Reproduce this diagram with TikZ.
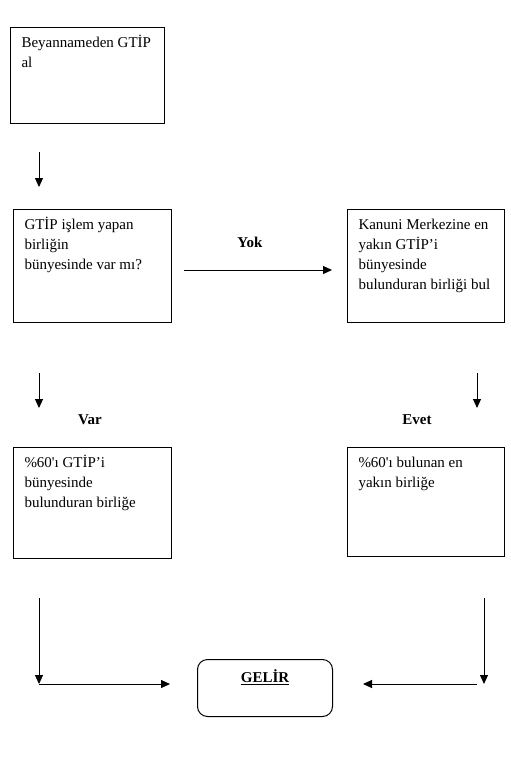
\documentclass[tikz,border=0pt]{standalone}
\usepackage{fontspec}
\setmainfont{Liberation Serif}
\usetikzlibrary{arrows.meta}

% kutu icindeki metin: genislik, yukseklik, metin
\newcommand{\kutumetin}[3]{\parbox[t][#2][t]{#1}{\raggedright\rule{0pt}{20pt}#3}}

\begin{document}
\begin{tikzpicture}[x=1pt,y=-1pt,
    kutu/.style={draw, line width=1pt, anchor=north west, inner xsep=11pt, inner ysep=0pt},
    etiket/.style={anchor=base, font=\bfseries},
    ok/.style={line width=1pt, -{Triangle[length=9pt,width=8pt]}}]
    \useasboundingbox (0,0) rectangle (511,768);
    \fontsize{15}{20}\selectfont

    % kutular
    \node[kutu] (beyan) at (10,27) {\kutumetin{132pt}{96pt}{Beyannameden GTİP\\al}};
    \node[kutu] (soru) at (13,209) {\kutumetin{136pt}{113pt}{GTİP işlem yapan\\birliğin\\bünyesinde var mı?}};
    \node[kutu] (kanuni) at (347,209) {\kutumetin{135pt}{113pt}{Kanuni Merkezine en\\yakın GTİP’i\\bünyesinde\\bulunduran birliği bul}};
    \node[kutu] (var) at (13,447) {\kutumetin{136pt}{111pt}{\%60\textquotesingle ı GTİP’i\\bünyesinde\\bulunduran birliğe}};
    \node[kutu] (evet) at (347,447) {\kutumetin{135pt}{109pt}{\%60\textquotesingle ı bulunan en\\yakın birliğe}};
    \node[draw, line width=1pt, rounded corners=10pt, anchor=north west, inner sep=0pt] (gelir) at (197,659)
        {\parbox[t][57pt][t]{135pt}{\centering\rule{0pt}{23pt}\textbf{\underline{GELİR}}}};

    % etiketler
    \node[etiket] (yok) at (250,247) {Yok};
    \node[etiket] (varl) at (90,424) {Var};
    \node[etiket] (evetl) at (417,424) {Evet};

    % ok uclari
    \coordinate (o1a) at (39,152);
    \coordinate (o1b) at (39,187);
    \coordinate (o2a) at (184,270);
    \coordinate (o2b) at (332,270);
    \coordinate (o3a) at (39,373);
    \coordinate (o3b) at (39,408);
    \coordinate (o4a) at (477,373);
    \coordinate (o4b) at (477,408);
    \coordinate (o5a) at (39,598);
    \coordinate (o5b) at (39,684);
    \coordinate (o5c) at (170,684);
    \coordinate (o6a) at (484,598);
    \coordinate (o6b) at (484,684);
    \coordinate (o6c) at (477,684);
    \coordinate (o6d) at (363,684);

    % oklar
    \draw[ok] (o1a) -- (o1b);
    \draw[ok] (o2a) -- (o2b);
    \draw[ok] (o3a) -- (o3b);
    \draw[ok] (o4a) -- (o4b);
    \draw[ok] (o5a) -- (o5b);
    \draw[ok] (o5b) -- (o5c);
    \draw[ok] (o6a) -- (o6b);
    \draw[ok] (o6c) -- (o6d);
\end{tikzpicture}
\end{document}
